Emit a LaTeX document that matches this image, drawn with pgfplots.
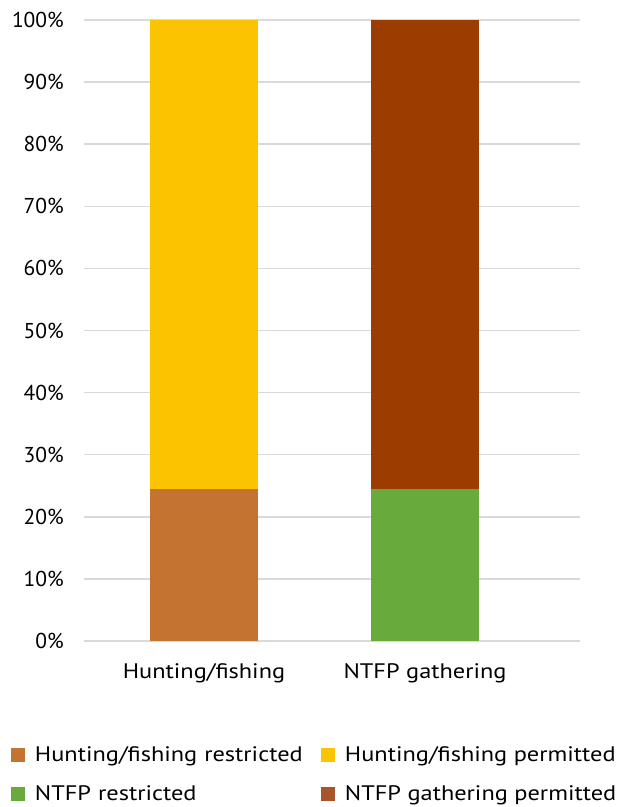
\documentclass[border=0pt]{standalone}
\usepackage{fontspec}
\setmainfont{PT Sans}
\newfontfamily\labelfont{PT Sans}[FakeStretch=1.16]
\usepackage{pgfplots}
\pgfplotsset{compat=1.18}

\definecolor{hfres}{HTML}{C47331}
\definecolor{hfperm}{HTML}{FBC300}
\definecolor{ntfpres}{HTML}{68AA3C}
\definecolor{ntfpperm}{HTML}{9C3C00}
\definecolor{ntfplegend}{HTML}{A9552B}
\definecolor{gridgray}{HTML}{D9D9D9}

\begin{document}
\begin{tikzpicture}
\path[use as bounding box] (-84pt,-166pt) rectangle (533pt,641pt);
\begin{axis}[
  at={(0pt,0pt)}, anchor=south west,
  scale only axis, width=496pt, height=621pt,
  ybar stacked, bar width=108pt,
  xmin=-0.543, xmax=1.701, ymin=0, ymax=100,
  xtick={0,1}, xticklabels={Hunting/fishing, NTFP gathering},
  ytick={0,10,...,100},
  yticklabel={\pgfmathprintnumber{\tick}\%},
  /pgf/number format/assume math mode=true,
  axis line style={draw=none}, major tick length=0pt,
  ymajorgrids, grid style={draw=gridgray, line width=1.5pt},
  yticklabel style={font=\fontsize{21.5}{26}\selectfont, anchor=east, inner sep=0pt, xshift=-20pt},
  xticklabel style={font=\labelfont\fontsize{21}{25}\selectfont, anchor=north, inner sep=0pt, yshift=-22pt},
  legend columns=2,
  legend image code/.code={
    \fill[#1, draw=none] (0pt,0pt) rectangle (14pt,14pt);
    \path (24pt,0pt);
  },
  legend style={
    draw=none, fill=none, inner sep=0pt, outer sep=0pt,
    at={(axis description cs:-0.1472,-0.17)}, anchor=north west,
    font=\labelfont\fontsize{21}{25}\selectfont,
    nodes={inner sep=0pt, text height=15pt, text depth=4pt, anchor=base west},
    row sep=20pt,
    /tikz/column 2/.style={nodes={text width=286pt, align=left}},
  },
]
\addplot[fill=hfres, draw=none] coordinates {(0,24.5) (1,0)};
\addlegendentry{Hunting/fishing restricted}
\addplot[fill=hfperm, draw=none] coordinates {(0,75.5) (1,0)};
\addlegendentry{Hunting/fishing permitted}
\addplot[fill=ntfpres, draw=none] coordinates {(0,0) (1,24.5)};
\addlegendentry{NTFP restricted}
\addplot[fill=ntfpperm, draw=none, legend image post style={fill=ntfplegend}] coordinates {(0,0) (1,75.5)};
\addlegendentry{NTFP gathering permitted}
\end{axis}
\end{tikzpicture}
\end{document}
